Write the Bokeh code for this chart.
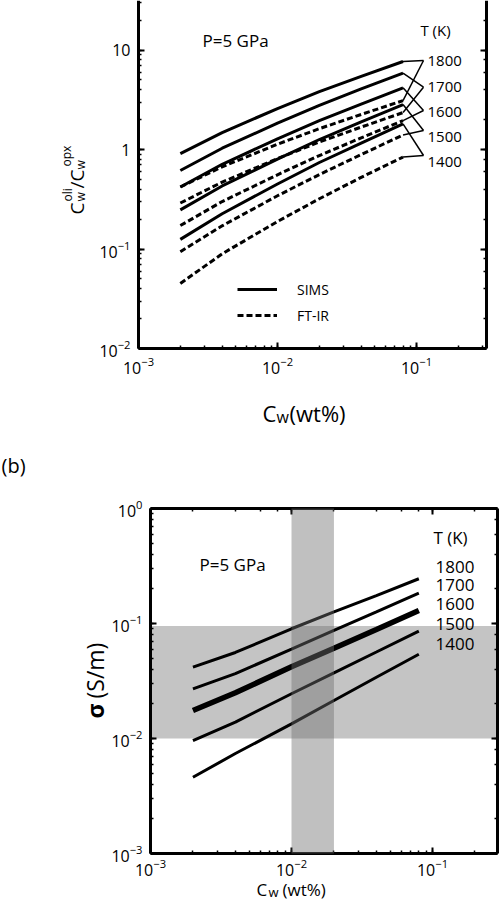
import math
from bokeh.plotting import figure
from bokeh.models import LogAxis, Label, Legend, LegendItem, BoxAnnotation
from bokeh.layouts import column
from bokeh.embed import file_html
from bokeh.resources import INLINE

FONT = "Open Sans"

# ---------------- data ----------------
cw = [0.002, 0.004, 0.01, 0.02, 0.04, 0.08]          # C_w (wt%)
temps = ["1800", "1700", "1600", "1500", "1400"]      # T (K)

# panel (a): C_w(oli)/C_w(opx)
sims_1800 = [0.91, 1.48, 2.58, 3.81, 5.43, 7.66]
sims_1700 = [0.615, 1.03, 1.84, 2.78, 4.06, 5.85]
sims_1600 = [0.42, 0.71, 1.28, 1.95, 2.86, 4.17]
sims_1500 = [0.247, 0.43, 0.80, 1.26, 1.90, 2.83]
sims_1400 = [0.125, 0.226, 0.45, 0.74, 1.16, 1.81]

ftir_1800 = [0.42, 0.67, 1.13, 1.62, 2.25, 3.10]
ftir_1700 = [0.29, 0.47, 0.81, 1.19, 1.68, 2.35]
ftir_1600 = [0.172, 0.30, 0.557, 0.87, 1.31, 1.95]
ftir_1500 = [0.094, 0.171, 0.343, 0.56, 0.89, 1.40]
ftir_1400 = [0.045, 0.0895, 0.189, 0.32, 0.525, 0.84]

# panel (b): conductivity sigma (S/m)
sig_1800 = [0.0417, 0.056, 0.090, 0.126, 0.175, 0.245]
sig_1700 = [0.027, 0.0366, 0.060, 0.0873, 0.1265, 0.184]
sig_1600 = [0.0175, 0.025, 0.042, 0.0608, 0.0887, 0.130]
sig_1500 = [0.0096, 0.0139, 0.0245, 0.0372, 0.0565, 0.086]
sig_1400 = [0.0046, 0.0074, 0.0134, 0.0214, 0.0341, 0.054]

band_cw = [0.01, 0.02]       # shaded C_w range
band_sigma = [0.01, 0.095]   # shaded sigma range

sims = [sims_1800, sims_1700, sims_1600, sims_1500, sims_1400]
ftir = [ftir_1800, ftir_1700, ftir_1600, ftir_1500, ftir_1400]
sigs = [sig_1800, sig_1700, sig_1600, sig_1500, sig_1400]

# ---------------- layout geometry (page pixels) ----------------
W = 500
H1 = 440            # canvas height of panel (a)
H2 = 903 - H1       # canvas height of panel (b)


# panel (a): page px -> data
def top_x(px):
    return 10 ** ((px - 138) / 139 - 3)


def top_y(py):
    return 10 ** ((149 - py) / 99.5)


# panel (b): page px -> data
def bot_x(px):
    return 10 ** ((px - 150) / 141 - 3)


def bot_y(py):
    return 10 ** ((508 - py) / 115)


A_X0, A_X1, A_Y0, A_Y1 = 1e-3, top_x(486), 0.01, top_y(0)   # box of panel (a)
B_X0, B_X1, B_Y0, B_Y1 = 1e-3, bot_x(497), 1e-3, 1.0         # box of panel (b)


def style_axis(ax, labels=True, standoff=8):
    ax.axis_line_width = 3
    ax.axis_line_color = "black"
    ax.major_tick_in = 6
    ax.major_tick_out = 0
    ax.minor_tick_in = 3
    ax.minor_tick_out = 0
    ax.major_tick_line_width = 2
    ax.minor_tick_line_width = 1.5
    ax.major_tick_line_color = "black"
    ax.minor_tick_line_color = "black"
    ax.major_label_text_font = FONT
    ax.major_label_text_color = "black"
    if labels:
        ax.major_label_text_font_size = "16px"
        ax.major_label_standoff = standoff
    else:
        ax.major_label_text_font_size = "1px"
        ax.major_label_text_color = None
        ax.major_label_standoff = 0


def lab(p, x, y, text, size, align="left", baseline="middle", angle=0.0, style="normal"):
    p.add_layout(Label(x=x, y=y, text=text, text_font=FONT, text_font_size=f"{size}px",
                       text_color="black", text_align=align, text_baseline=baseline,
                       angle=angle, text_font_style=style))


def make_fig(xr, yr, h):
    p = figure(x_axis_type="log", y_axis_type="log", x_range=xr, y_range=yr,
               width=W, height=h, min_border=0, toolbar_location=None,
               output_backend="svg", title=None)
    p.outline_line_color = None
    p.grid.visible = False
    p.background_fill_color = "white"
    p.border_fill_color = "white"
    return p


# ================= panel (a) =================
p1 = make_fig((top_x(0), top_x(W)), (top_y(H1), top_y(0)), H1)
xa = p1.xaxis[0]
style_axis(xa)
xa.fixed_location = A_Y0
xa.bounds = (A_X0, A_X1)
ya = p1.yaxis[0]
style_axis(ya)
ya.fixed_location = A_X0
ya.bounds = (A_Y0, A_Y1)
ya.major_label_overrides = {1: "1", 10: "10"}
ra = LogAxis(fixed_location=A_X1, bounds=(A_Y0, A_Y1))
style_axis(ra, labels=False)
p1.add_layout(ra, "right")

r_s = r_d = None
for i in range(5):
    rs = p1.line(cw, sims[i], line_color="black", line_width=3)
    rd = p1.line(cw, ftir[i], line_color="black", line_width=3, line_dash="6 3")
    if i == 0:
        r_s, r_d = rs, rd

# leader lines from curve ends to the temperature labels
anchor_py = [60, 86.7, 110, 130, 155]
x0s, y0s, x1s, y1s = [], [], [], []
for i in range(5):
    for series in (sims[i], ftir[i]):
        x0s.append(cw[-1])
        y0s.append(series[-1])
        x1s.append(top_x(423))
        y1s.append(top_y(anchor_py[i]))
p1.segment(x0=x0s, y0=y0s, x1=x1s, y1=y1s, line_color="black", line_width=1.5)

label_py_a = [60, 86, 111, 136, 161]
for t, py in zip(temps, label_py_a):
    lab(p1, top_x(427), top_y(py), t, 15)
lab(p1, top_x(435), top_y(29), "T (K)", 15, align="center")
lab(p1, top_x(202), top_y(40), "P=5 GPa", 17)

legend = Legend(items=[LegendItem(label="SIMS", renderers=[r_s]),
                       LegendItem(label="FT-IR", renderers=[r_d])],
                location=(237, H1 - 325), glyph_width=40, glyph_height=20, label_height=20,
                label_standoff=20, spacing=6, padding=0, margin=0,
                border_line_alpha=0, background_fill_alpha=0,
                label_text_font=FONT, label_text_font_size="14px", label_text_color="black")
p1.add_layout(legend)

# x axis title  C_w(wt%)
lab(p1, top_x(262), top_y(412), "C", 22, baseline="alphabetic")
lab(p1, top_x(276), top_y(416), "w", 16, baseline="alphabetic")
lab(p1, top_x(289), top_y(412), "(wt%)", 22, baseline="alphabetic")

# y axis title  C_w^oli / C_w^opx (rotated)
A = math.pi / 2
lab(p1, top_x(76), top_y(214), "C", 19, baseline="alphabetic", angle=A)
lab(p1, top_x(67), top_y(201), "oli", 12, baseline="alphabetic", angle=A)
lab(p1, top_x(80), top_y(201), "w", 12, baseline="alphabetic", angle=A)
lab(p1, top_x(76), top_y(188), "/", 19, baseline="alphabetic", angle=A)
lab(p1, top_x(76), top_y(181), "C", 19, baseline="alphabetic", angle=A)
lab(p1, top_x(66), top_y(166), "opx", 12, baseline="alphabetic", angle=A)
lab(p1, top_x(80), top_y(169), "w", 12, baseline="alphabetic", angle=A)

# ================= panel (b) =================
p2 = make_fig((bot_x(0), bot_x(W)), (bot_y(903), bot_y(H1)), H2)
xb = p2.xaxis[0]
style_axis(xb, standoff=5)
xb.fixed_location = B_Y0
xb.bounds = (B_X0, B_X1)
yb = p2.yaxis[0]
style_axis(yb)
yb.fixed_location = B_X0
yb.bounds = (B_Y0, B_Y1)
rb = LogAxis(fixed_location=B_X1, bounds=(B_Y0, B_Y1))
style_axis(rb, labels=False)
p2.add_layout(rb, "right")
tb = LogAxis(fixed_location=B_Y1, bounds=(B_X0, B_X1))
style_axis(tb, labels=False)
p2.add_layout(tb, "above")

p2.add_layout(BoxAnnotation(left=B_X0, right=B_X1, bottom=band_sigma[0], top=band_sigma[1],
                            fill_color="#c4c4c4", fill_alpha=1.0, line_color=None,
                            level="underlay"))
p2.add_layout(BoxAnnotation(left=band_cw[0], right=band_cw[1], bottom=B_Y0, top=B_Y1,
                            fill_color="#6e6e6e", fill_alpha=0.435, line_color=None,
                            level="annotation"))

widths_b = [3, 3, 5.5, 3, 3]
for i in range(5):
    p2.line(cw, sigs[i], line_color="black", line_width=widths_b[i])

label_py_b = [566, 584, 603, 623, 643]
for t, py in zip(temps, label_py_b):
    lab(p2, bot_x(435), bot_y(py), t, 17)
lab(p2, bot_x(450), bot_y(537), "T (K)", 17, align="center")
lab(p2, bot_x(199), bot_y(564), "P=5 GPa", 17)

lab(p2, bot_x(1), bot_y(465), "(b)", 20)

# y axis title  sigma (S/m)
lab(p2, bot_x(94), bot_y(718), "σ", 23, baseline="alphabetic", angle=A, style="bold")
lab(p2, bot_x(94), bot_y(698), "(S/m)", 23, baseline="alphabetic", angle=A)

# x axis title  C_w (wt%)
lab(p2, bot_x(256), bot_y(889), "C", 17, baseline="alphabetic")
lab(p2, bot_x(268), bot_y(891.5), "w", 13, baseline="alphabetic")
lab(p2, bot_x(282), bot_y(889), "(wt%)", 17, baseline="alphabetic")

layout = column(p1, p2)
open("out.html", "w").write(file_html(layout, INLINE))
